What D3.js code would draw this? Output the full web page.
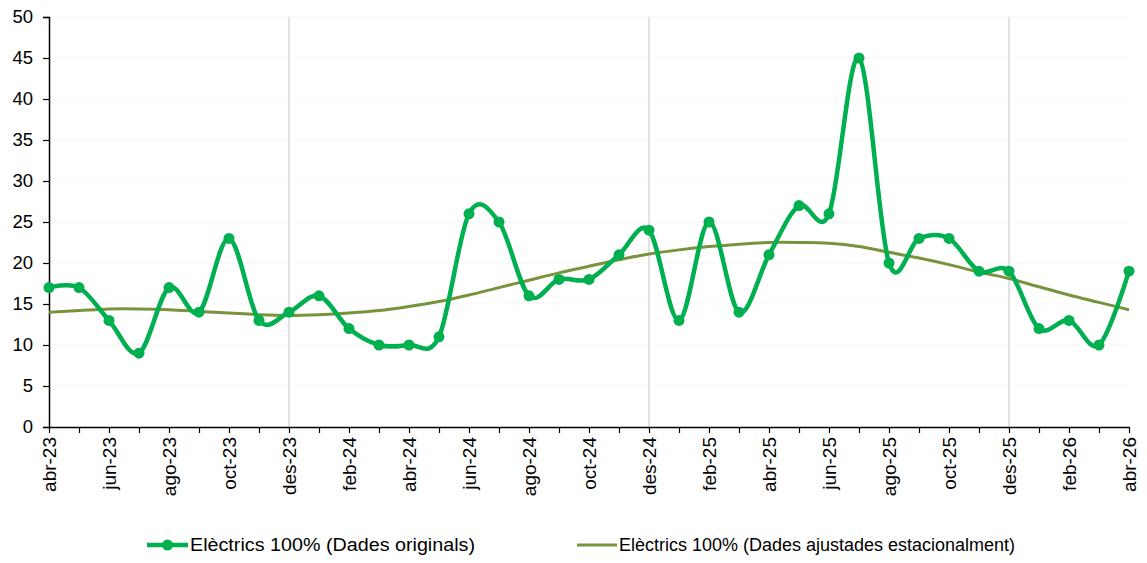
<!DOCTYPE html>
<html>
<head>
<meta charset="utf-8">
<script src="https://cdn.jsdelivr.net/npm/d3@7"></script>
<style>
    body { margin: 0; background: #fff; }
    svg { display: block; font-family: "Liberation Sans", Arial, sans-serif; }
</style>
</head>
<body>
<div id="chart"></div>
<script>
(function () {
    const months = [
        'abr-23', 'mai-23', 'jun-23', 'jul-23', 'ago-23', 'set-23', 'oct-23', 'nov-23', 'des-23',
        'gen-24', 'feb-24', 'mar-24', 'abr-24', 'mai-24', 'jun-24', 'jul-24', 'ago-24', 'set-24',
        'oct-24', 'nov-24', 'des-24', 'gen-25', 'feb-25', 'mar-25', 'abr-25', 'mai-25', 'jun-25',
        'jul-25', 'ago-25', 'set-25', 'oct-25', 'nov-25', 'des-25', 'gen-26', 'feb-26', 'mar-26',
        'abr-26',
    ];

    const original = [
        17, 17, 13, 9, 17, 14, 23, 13, 14,
        16, 12, 10, 10, 11, 26, 25, 16, 18,
        18, 21, 24, 13, 25, 14, 21, 27, 26,
        45, 20, 23, 23, 19, 19, 12, 13, 10,
        19,
    ];

    const adjusted = [
        14.0, 14.2, 14.4, 14.4, 14.3, 14.1, 13.9, 13.7, 13.6,
        13.7, 13.9, 14.2, 14.7, 15.3, 16.1, 17.0, 17.9, 18.8,
        19.6, 20.4, 21.1, 21.6, 22.0, 22.3, 22.5, 22.5, 22.4,
        22.0, 21.3, 20.6, 19.8, 18.9, 18.1, 17.1, 16.1, 15.2,
        14.3,
    ];

    const yTicks = [0, 5, 10, 15, 20, 25, 30, 35, 40, 45, 50];
    const yearMarks = ['des-23', 'des-24', 'des-25'];

    const seriesNames = [
        'Elèctrics 100% (Dades originals)',
        'Elèctrics 100% (Dades ajustades estacionalment)',
    ];

    const green = '#00B050';
    const olive = '#77933C';

    const [width, height] = [1147, 563];
    const [marginLeft, marginRight, marginTop, marginBottom] = [49, 18, 17, 136];
    const innerW = width - marginLeft - marginRight;
    const innerH = height - marginTop - marginBottom;

    let svg = d3.select('#chart')
                .append('svg')
                .attr('width', width)
                .attr('height', height);

    let g = svg.append('g')
               .attr('transform', `translate(${marginLeft}, ${marginTop})`);

    let x = d3.scalePoint()
              .domain(months)
              .range([0, innerW]);

    let y = d3.scaleLinear()
              .domain([0, 50])
              .range([innerH, 0]);

    // faint horizontal gridlines
    g.selectAll('.hgrid')
     .data(yTicks.filter(d => d > 0))
     .enter()
     .append('line')
     .attr('x1', 0)
     .attr('x2', innerW)
     .attr('y1', d => y(d))
     .attr('y2', d => y(d))
     .attr('stroke', '#e6e6e6')
     .attr('stroke-width', 0.7)
     .attr('stroke-dasharray', '2,2');

    // year separators
    g.selectAll('.vgrid')
     .data(yearMarks)
     .enter()
     .append('line')
     .attr('x1', d => x(d))
     .attr('x2', d => x(d))
     .attr('y1', 0)
     .attr('y2', innerH)
     .attr('stroke', '#d9d9d9')
     .attr('stroke-width', 1.5);

    // y axis
    let yAxis = g.append('g')
                 .call(d3.axisLeft(y).tickValues(yTicks).tickSize(6).tickPadding(10));
    yAxis.select('.domain').attr('stroke', '#000').attr('stroke-width', 1.5);
    yAxis.selectAll('.tick line').attr('stroke', '#000').attr('stroke-width', 1.2);
    yAxis.selectAll('text')
         .attr('font-size', '18.5px')
         .attr('fill', '#000')
         .attr('font-family', '"Liberation Sans", Arial, sans-serif');

    // x axis
    let xAxis = g.append('g')
                 .attr('transform', `translate(0, ${innerH})`)
                 .call(d3.axisBottom(x).tickSize(6).tickSizeOuter(0)
                         .tickFormat((d, i) => i % 2 === 0 ? d : ''));
    xAxis.select('.domain').attr('stroke', '#000').attr('stroke-width', 1.5);
    xAxis.selectAll('.tick line').attr('stroke', '#000').attr('stroke-width', 1.2);
    xAxis.selectAll('text')
         .attr('font-size', '19px')
         .attr('fill', '#000')
         .attr('font-family', '"Liberation Sans", Arial, sans-serif')
         .attr('text-anchor', 'end')
         .attr('transform', 'rotate(-90)')
         .attr('x', -10)
         .attr('y', 0)
         .attr('dy', '0.35em');

    let line = d3.line()
                 .x((d, i) => x(months[i]))
                 .y(d => y(d))
                 .curve(d3.curveCardinal.tension(0));

    g.append('path')
     .datum(adjusted)
     .attr('d', line)
     .attr('fill', 'none')
     .attr('stroke', olive)
     .attr('stroke-width', 3);

    g.append('path')
     .datum(original)
     .attr('d', line)
     .attr('fill', 'none')
     .attr('stroke', green)
     .attr('stroke-width', 4.5);

    g.selectAll('.dot')
     .data(original)
     .enter()
     .append('circle')
     .attr('cx', (d, i) => x(months[i]))
     .attr('cy', d => y(d))
     .attr('r', 5.5)
     .attr('fill', green);

    // legend
    let legend = svg.append('g')
                    .attr('transform', 'translate(0, 545)');

    legend.append('line')
          .attr('x1', 147).attr('x2', 188)
          .attr('y1', 0).attr('y2', 0)
          .attr('stroke', green).attr('stroke-width', 4.5);
    legend.append('circle')
          .attr('cx', 167.5).attr('cy', 0).attr('r', 5.5)
          .attr('fill', green);
    legend.append('text')
          .attr('x', 190).attr('y', 0).attr('dy', '0.35em')
          .attr('font-size', '17.5px')
          .attr('textLength', 285)
          .attr('lengthAdjust', 'spacingAndGlyphs')
          .text(seriesNames[0]);

    legend.append('line')
          .attr('x1', 577).attr('x2', 617)
          .attr('y1', 0).attr('y2', 0)
          .attr('stroke', olive).attr('stroke-width', 3);
    legend.append('text')
          .attr('x', 619).attr('y', 0).attr('dy', '0.35em')
          .attr('font-size', '17.5px')
          .attr('textLength', 396)
          .attr('lengthAdjust', 'spacingAndGlyphs')
          .text(seriesNames[1]);
})();
</script>
</body>
</html>
